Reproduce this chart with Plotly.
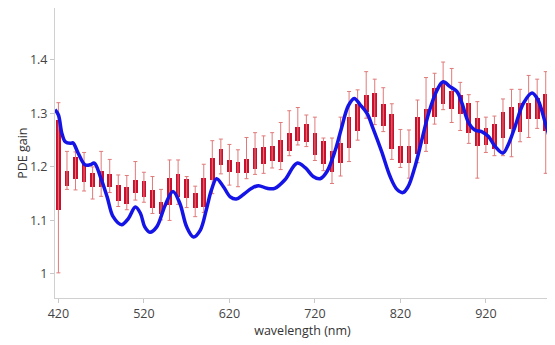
import plotly.graph_objects as go

wavelength = list(range(420, 1000, 10))
whisker_low = [1.002, 1.158, 1.157, 1.155, 1.140, 1.145, 1.152, 1.126, 1.120, 1.138,
               1.134, 1.113, 1.101, 1.100, 1.130, 1.124, 1.107, 1.115, 1.150, 1.187,
               1.166, 1.163, 1.178, 1.186, 1.188, 1.198, 1.195, 1.221, 1.241, 1.238,
               1.212, 1.193, 1.169, 1.183, 1.210, 1.250, 1.291, 1.279, 1.266, 1.214,
               1.199, 1.179, 1.208, 1.229, 1.280, 1.307, 1.283, 1.268, 1.244, 1.179,
               1.227, 1.221, 1.221, 1.219, 1.247, 1.255, 1.272, 1.188]
box_low = [1.120, 1.164, 1.178, 1.171, 1.162, 1.162, 1.163, 1.137, 1.131, 1.151,
           1.144, 1.123, 1.112, 1.129, 1.143, 1.141, 1.123, 1.126, 1.176, 1.204,
           1.191, 1.188, 1.188, 1.196, 1.206, 1.211, 1.210, 1.229, 1.249, 1.247,
           1.222, 1.206, 1.191, 1.207, 1.235, 1.268, 1.303, 1.293, 1.277, 1.234,
           1.208, 1.208, 1.224, 1.243, 1.293, 1.318, 1.308, 1.299, 1.263, 1.239,
           1.241, 1.233, 1.254, 1.270, 1.266, 1.289, 1.289, 1.268]
box_high = [1.287, 1.193, 1.218, 1.205, 1.189, 1.192, 1.187, 1.166, 1.162, 1.176,
            1.173, 1.157, 1.135, 1.179, 1.187, 1.177, 1.151, 1.180, 1.216, 1.233,
            1.213, 1.210, 1.214, 1.236, 1.238, 1.239, 1.251, 1.264, 1.275, 1.280,
            1.263, 1.249, 1.230, 1.244, 1.293, 1.318, 1.335, 1.338, 1.317, 1.299,
            1.239, 1.239, 1.293, 1.309, 1.347, 1.356, 1.341, 1.335, 1.320, 1.291,
            1.272, 1.280, 1.302, 1.312, 1.319, 1.319, 1.328, 1.336]
whisker_high = [1.320, 1.229, 1.228, 1.227, 1.200, 1.229, 1.214, 1.185, 1.184, 1.210,
                1.190, 1.182, 1.158, 1.213, 1.213, 1.182, 1.164, 1.205, 1.249, 1.252,
                1.242, 1.232, 1.255, 1.264, 1.258, 1.264, 1.283, 1.305, 1.311, 1.297,
                1.293, 1.254, 1.254, 1.293, 1.341, 1.344, 1.378, 1.364, 1.348, 1.318,
                1.270, 1.269, 1.325, 1.367, 1.375, 1.396, 1.384, 1.358, 1.335, 1.322,
                1.293, 1.295, 1.327, 1.345, 1.345, 1.371, 1.364, 1.378]

line_x = [416, 420, 424, 428, 434, 437, 443, 451, 457, 462, 469, 477, 484, 494, 502,
          510, 516, 521, 527, 535, 545, 554, 562, 570, 578, 586, 593, 599, 605, 613,
          621, 628, 636, 646, 654, 664, 673, 685, 699, 709, 718, 726, 734, 744, 751,
          759, 766, 773, 781, 788, 798, 808, 816, 823, 829, 837, 845, 853, 863, 870,
          878, 886, 892, 900, 907, 915, 923, 931, 940, 946, 954, 964, 974, 981, 989, 995]
line_y = [1.307, 1.297, 1.263, 1.247, 1.244, 1.245, 1.226, 1.204, 1.204, 1.207, 1.182,
          1.144, 1.107, 1.092, 1.104, 1.125, 1.113, 1.088, 1.078, 1.088, 1.129, 1.154,
          1.132, 1.088, 1.069, 1.082, 1.120, 1.157, 1.178, 1.163, 1.144, 1.140, 1.148,
          1.160, 1.165, 1.160, 1.160, 1.176, 1.207, 1.198, 1.182, 1.178, 1.191, 1.232,
          1.272, 1.314, 1.328, 1.316, 1.300, 1.272, 1.229, 1.182, 1.158, 1.152, 1.163,
          1.200, 1.250, 1.300, 1.344, 1.359, 1.350, 1.341, 1.319, 1.282, 1.269, 1.266,
          1.257, 1.238, 1.226, 1.241, 1.275, 1.319, 1.338, 1.325, 1.285, 1.252]

x_ticks = [420, 520, 620, 720, 820, 920]
y_ticks = [1, 1.1, 1.2, 1.3, 1.4]

mid = [(a + b) / 2 for a, b in zip(whisker_low, whisker_high)]
err_plus = [h - m for h, m in zip(whisker_high, mid)]
err_minus = [m - l for m, l in zip(mid, whisker_low)]

fig = go.Figure()
fig.add_trace(go.Scatter(
    x=wavelength, y=mid, mode="markers",
    marker=dict(size=1, color="rgba(0,0,0,0)"),
    error_y=dict(type="data", symmetric=False, array=err_plus, arrayminus=err_minus,
                 color="#e07a7a", thickness=1, width=2),
    hoverinfo="skip", showlegend=False))
fig.add_trace(go.Bar(
    x=wavelength, y=[h - l for h, l in zip(box_high, box_low)], base=box_low,
    width=5.5, marker=dict(color="#c8102e", line=dict(width=0)),
    showlegend=False))
fig.add_trace(go.Scatter(
    x=line_x, y=line_y, mode="lines",
    line=dict(color="#1414e6", width=3.5, shape="spline", smoothing=1.0),
    showlegend=False))

axis_font = dict(family="Open Sans, Noto Sans, sans-serif", size=12, color="#444")
fig.update_layout(
    width=547, height=337,
    margin=dict(l=47, r=5, t=0, b=47),
    paper_bgcolor="white", plot_bgcolor="white",
    font=axis_font,
    xaxis=dict(range=[416, 995], tickvals=x_ticks, showgrid=False, zeroline=False,
               showline=True, linecolor="#d0d0d0", linewidth=1, mirror=True,
               ticks="outside", ticklen=4, tickcolor="#c8c8c8",
               title=dict(text="wavelength (nm)", standoff=4, font=dict(size=12.5, color="#333")),
               tickfont=dict(size=12.5, color="#444")),
    yaxis=dict(range=[0.955, 1.497], tickvals=y_ticks, ticktext=["1", "1.1", "1.2", "1.3", "1.4"],
               showgrid=False, zeroline=False,
               showline=True, linecolor="#d0d0d0", linewidth=1, mirror=True,
               ticks="outside", ticklen=4, tickcolor="#c8c8c8",
               tickfont=dict(size=12.5, color="#444")),
    annotations=[dict(text="PDE gain", xref="paper", yref="paper", x=-0.067, y=0.5,
                      textangle=-90, showarrow=False, xanchor="center", yanchor="middle",
                      font=dict(size=12.5, color="#333"))],
    bargap=0,
)
fig.write_html("out.html")
